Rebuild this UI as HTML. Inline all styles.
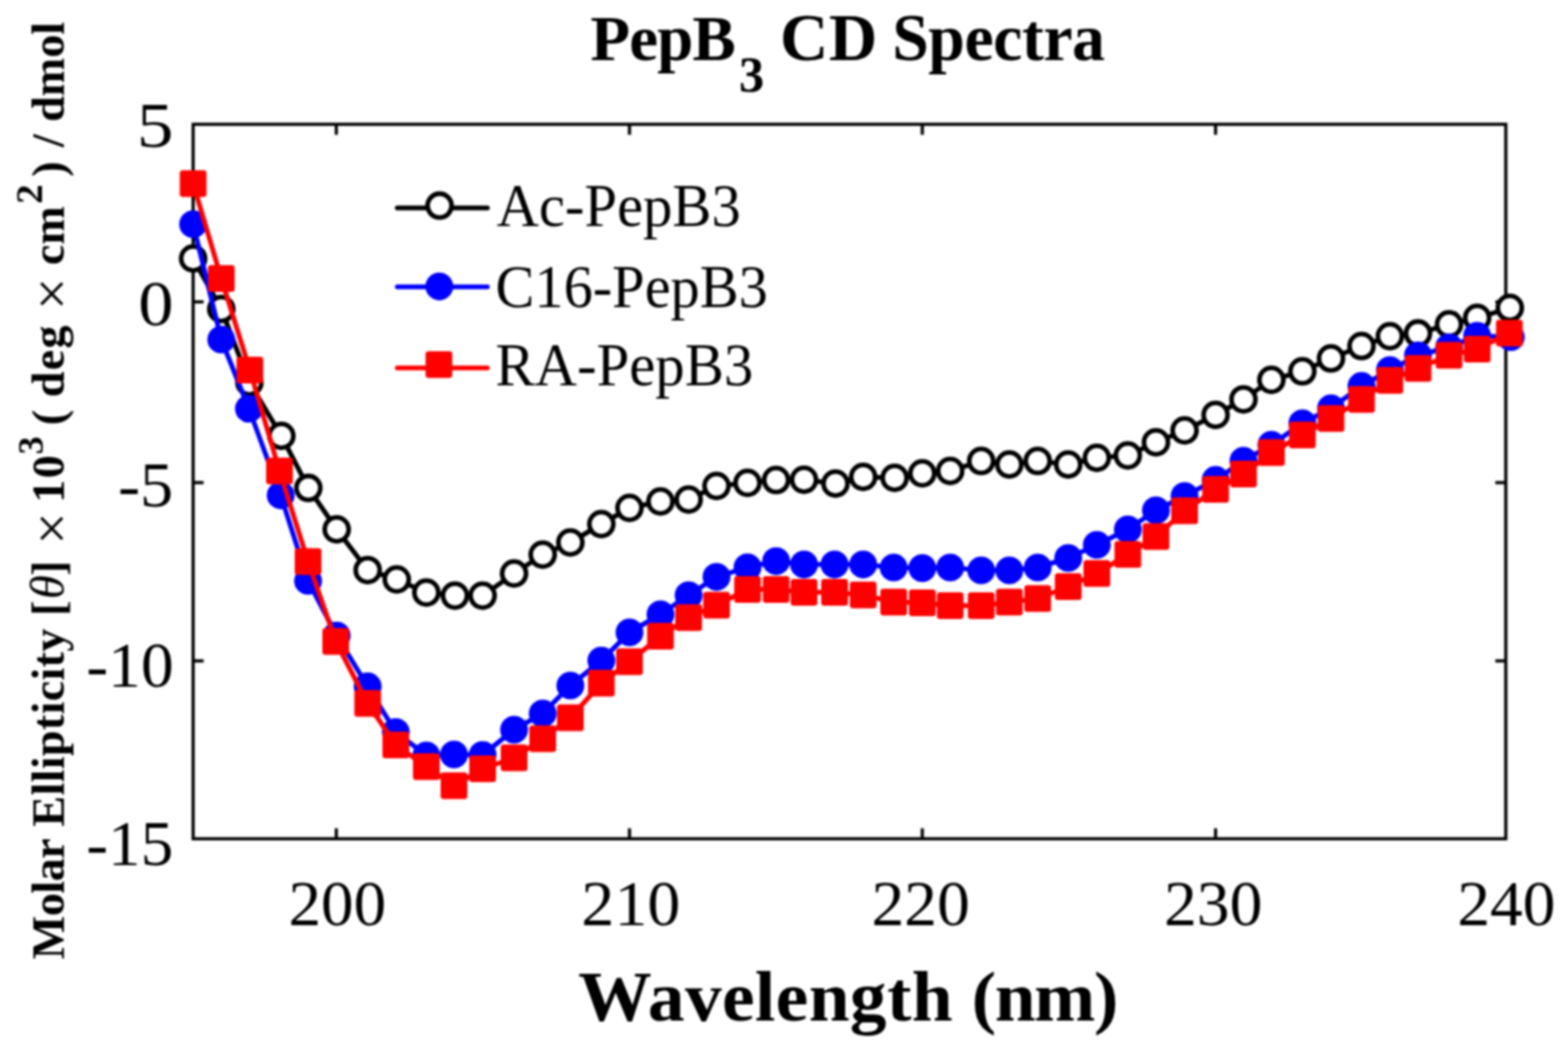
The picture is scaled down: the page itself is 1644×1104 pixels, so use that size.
<!DOCTYPE html>
<html lang="en"><head><meta charset="utf-8"><title>PepB3 CD Spectra</title>
<style>
html,body{margin:0;padding:0;background:#fff;}
body{width:1644px;height:1104px;overflow:hidden;}
svg{display:block;}
text{font-family:"Liberation Serif","DejaVu Serif",serif;fill:#000;}
.b{font-weight:bold;}
.i{font-style:italic;}
</style></head><body>
<svg width="1644" height="1104" viewBox="0 0 1644 1104">
<defs><filter id="soft" x="0" y="0" width="1644" height="1104" filterUnits="userSpaceOnUse" color-interpolation-filters="sRGB"><feGaussianBlur stdDeviation="0.85"/></filter></defs>
<rect x="0" y="0" width="1644" height="1104" fill="#fff"/>
<g id="chart" filter="url(#soft)">
<rect x="0" y="0" width="1644" height="1104" fill="#fff"/>
<g id="axes" stroke="#000" stroke-width="3.3" fill="none" stroke-linecap="butt">
<rect x="202.5" y="130.3" width="1376.3" height="749.10"/>
<line x1="352.6" y1="879.4" x2="352.6" y2="868.4"/>
<line x1="352.6" y1="130.3" x2="352.6" y2="141.3"/>
<line x1="660" y1="879.4" x2="660" y2="868.4"/>
<line x1="660" y1="130.3" x2="660" y2="141.3"/>
<line x1="967" y1="879.4" x2="967" y2="868.4"/>
<line x1="967" y1="130.3" x2="967" y2="141.3"/>
<line x1="1274.5" y1="879.4" x2="1274.5" y2="868.4"/>
<line x1="1274.5" y1="130.3" x2="1274.5" y2="141.3"/>
<line x1="202.5" y1="316.5" x2="213.5" y2="316.5"/>
<line x1="1578.8" y1="316.5" x2="1567.8" y2="316.5"/>
<line x1="202.5" y1="506.0" x2="213.5" y2="506.0"/>
<line x1="1578.8" y1="506.0" x2="1567.8" y2="506.0"/>
<line x1="202.5" y1="692.9" x2="213.5" y2="692.9"/>
<line x1="1578.8" y1="692.9" x2="1567.8" y2="692.9"/>
</g>
<g id="s-black"><polyline points="202.50,271.00 232.00,324.00 261.50,401.00 295.00,457.00 323.30,511.60 353.00,555.00 385.50,597.70 416.00,607.50 447.00,621.25 477.00,624.50 506.00,624.50 539.00,601.25 569.00,581.50 598.00,568.75 630.50,549.50 660.00,532.50 692.50,525.75 722.00,523.75 751.25,509.50 783.75,506.25 813.75,503.30 843.00,503.00 876.00,507.00 905.00,500.00 938.00,501.00 967.00,496.25 996.25,493.75 1028.75,483.30 1058.25,487.00 1088.00,483.30 1120.00,487.00 1150.00,480.00 1182.50,477.50 1212.00,463.75 1242.00,451.25 1274.50,435.00 1303.75,418.70 1333.00,398.25 1365.50,389.30 1395.50,375.80 1427.50,362.80 1457.25,352.50 1486.75,349.60 1519.25,340.00 1548.75,333.30 1583.00,322.80" fill="none" stroke="#000" stroke-width="5.0" stroke-linejoin="round"/>
<circle cx="202.50" cy="271.00" r="12.6" fill="#fff" stroke="#000" stroke-width="4.8"/>
<circle cx="232.00" cy="324.00" r="12.6" fill="#fff" stroke="#000" stroke-width="4.8"/>
<circle cx="261.50" cy="401.00" r="12.6" fill="#fff" stroke="#000" stroke-width="4.8"/>
<circle cx="295.00" cy="457.00" r="12.6" fill="#fff" stroke="#000" stroke-width="4.8"/>
<circle cx="323.30" cy="511.60" r="12.6" fill="#fff" stroke="#000" stroke-width="4.8"/>
<circle cx="353.00" cy="555.00" r="12.6" fill="#fff" stroke="#000" stroke-width="4.8"/>
<circle cx="385.50" cy="597.70" r="12.6" fill="#fff" stroke="#000" stroke-width="4.8"/>
<circle cx="416.00" cy="607.50" r="12.6" fill="#fff" stroke="#000" stroke-width="4.8"/>
<circle cx="447.00" cy="621.25" r="12.6" fill="#fff" stroke="#000" stroke-width="4.8"/>
<circle cx="477.00" cy="624.50" r="12.6" fill="#fff" stroke="#000" stroke-width="4.8"/>
<circle cx="506.00" cy="624.50" r="12.6" fill="#fff" stroke="#000" stroke-width="4.8"/>
<circle cx="539.00" cy="601.25" r="12.6" fill="#fff" stroke="#000" stroke-width="4.8"/>
<circle cx="569.00" cy="581.50" r="12.6" fill="#fff" stroke="#000" stroke-width="4.8"/>
<circle cx="598.00" cy="568.75" r="12.6" fill="#fff" stroke="#000" stroke-width="4.8"/>
<circle cx="630.50" cy="549.50" r="12.6" fill="#fff" stroke="#000" stroke-width="4.8"/>
<circle cx="660.00" cy="532.50" r="12.6" fill="#fff" stroke="#000" stroke-width="4.8"/>
<circle cx="692.50" cy="525.75" r="12.6" fill="#fff" stroke="#000" stroke-width="4.8"/>
<circle cx="722.00" cy="523.75" r="12.6" fill="#fff" stroke="#000" stroke-width="4.8"/>
<circle cx="751.25" cy="509.50" r="12.6" fill="#fff" stroke="#000" stroke-width="4.8"/>
<circle cx="783.75" cy="506.25" r="12.6" fill="#fff" stroke="#000" stroke-width="4.8"/>
<circle cx="813.75" cy="503.30" r="12.6" fill="#fff" stroke="#000" stroke-width="4.8"/>
<circle cx="843.00" cy="503.00" r="12.6" fill="#fff" stroke="#000" stroke-width="4.8"/>
<circle cx="876.00" cy="507.00" r="12.6" fill="#fff" stroke="#000" stroke-width="4.8"/>
<circle cx="905.00" cy="500.00" r="12.6" fill="#fff" stroke="#000" stroke-width="4.8"/>
<circle cx="938.00" cy="501.00" r="12.6" fill="#fff" stroke="#000" stroke-width="4.8"/>
<circle cx="967.00" cy="496.25" r="12.6" fill="#fff" stroke="#000" stroke-width="4.8"/>
<circle cx="996.25" cy="493.75" r="12.6" fill="#fff" stroke="#000" stroke-width="4.8"/>
<circle cx="1028.75" cy="483.30" r="12.6" fill="#fff" stroke="#000" stroke-width="4.8"/>
<circle cx="1058.25" cy="487.00" r="12.6" fill="#fff" stroke="#000" stroke-width="4.8"/>
<circle cx="1088.00" cy="483.30" r="12.6" fill="#fff" stroke="#000" stroke-width="4.8"/>
<circle cx="1120.00" cy="487.00" r="12.6" fill="#fff" stroke="#000" stroke-width="4.8"/>
<circle cx="1150.00" cy="480.00" r="12.6" fill="#fff" stroke="#000" stroke-width="4.8"/>
<circle cx="1182.50" cy="477.50" r="12.6" fill="#fff" stroke="#000" stroke-width="4.8"/>
<circle cx="1212.00" cy="463.75" r="12.6" fill="#fff" stroke="#000" stroke-width="4.8"/>
<circle cx="1242.00" cy="451.25" r="12.6" fill="#fff" stroke="#000" stroke-width="4.8"/>
<circle cx="1274.50" cy="435.00" r="12.6" fill="#fff" stroke="#000" stroke-width="4.8"/>
<circle cx="1303.75" cy="418.70" r="12.6" fill="#fff" stroke="#000" stroke-width="4.8"/>
<circle cx="1333.00" cy="398.25" r="12.6" fill="#fff" stroke="#000" stroke-width="4.8"/>
<circle cx="1365.50" cy="389.30" r="12.6" fill="#fff" stroke="#000" stroke-width="4.8"/>
<circle cx="1395.50" cy="375.80" r="12.6" fill="#fff" stroke="#000" stroke-width="4.8"/>
<circle cx="1427.50" cy="362.80" r="12.6" fill="#fff" stroke="#000" stroke-width="4.8"/>
<circle cx="1457.25" cy="352.50" r="12.6" fill="#fff" stroke="#000" stroke-width="4.8"/>
<circle cx="1486.75" cy="349.60" r="12.6" fill="#fff" stroke="#000" stroke-width="4.8"/>
<circle cx="1519.25" cy="340.00" r="12.6" fill="#fff" stroke="#000" stroke-width="4.8"/>
<circle cx="1548.75" cy="333.30" r="12.6" fill="#fff" stroke="#000" stroke-width="4.8"/>
<circle cx="1583.00" cy="322.80" r="12.6" fill="#fff" stroke="#000" stroke-width="4.8"/>
</g>
<g id="s-blue"><polyline points="202.50,235.00 232.00,356.00 261.00,428.50 294.30,519.30 323.00,609.00 353.00,666.30 385.50,719.70 415.00,767.50 447.00,792.00 476.00,791.00 506.00,791.50 539.00,765.00 569.00,748.00 598.00,718.75 630.50,692.50 660.00,663.00 692.50,644.00 722.00,624.00 751.25,604.80 783.75,594.80 813.75,588.30 843.00,591.80 875.00,591.80 905.00,591.80 937.00,595.00 967.00,595.60 996.25,595.00 1028.75,598.00 1058.25,598.00 1088.00,595.00 1120.00,585.00 1150.00,571.25 1182.50,555.00 1212.00,535.00 1242.00,520.00 1274.50,503.20 1303.75,483.00 1333.00,466.40 1365.50,443.80 1395.50,428.00 1427.50,404.70 1457.25,388.00 1486.75,372.50 1519.25,364.00 1548.75,352.00 1584.00,353.50" fill="none" stroke="#0000ff" stroke-width="5.0" stroke-linejoin="round"/>
<circle cx="202.50" cy="235.00" r="14.6" fill="#0000ff"/>
<circle cx="232.00" cy="356.00" r="14.6" fill="#0000ff"/>
<circle cx="261.00" cy="428.50" r="14.6" fill="#0000ff"/>
<circle cx="294.30" cy="519.30" r="14.6" fill="#0000ff"/>
<circle cx="323.00" cy="609.00" r="14.6" fill="#0000ff"/>
<circle cx="353.00" cy="666.30" r="14.6" fill="#0000ff"/>
<circle cx="385.50" cy="719.70" r="14.6" fill="#0000ff"/>
<circle cx="415.00" cy="767.50" r="14.6" fill="#0000ff"/>
<circle cx="447.00" cy="792.00" r="14.6" fill="#0000ff"/>
<circle cx="476.00" cy="791.00" r="14.6" fill="#0000ff"/>
<circle cx="506.00" cy="791.50" r="14.6" fill="#0000ff"/>
<circle cx="539.00" cy="765.00" r="14.6" fill="#0000ff"/>
<circle cx="569.00" cy="748.00" r="14.6" fill="#0000ff"/>
<circle cx="598.00" cy="718.75" r="14.6" fill="#0000ff"/>
<circle cx="630.50" cy="692.50" r="14.6" fill="#0000ff"/>
<circle cx="660.00" cy="663.00" r="14.6" fill="#0000ff"/>
<circle cx="692.50" cy="644.00" r="14.6" fill="#0000ff"/>
<circle cx="722.00" cy="624.00" r="14.6" fill="#0000ff"/>
<circle cx="751.25" cy="604.80" r="14.6" fill="#0000ff"/>
<circle cx="783.75" cy="594.80" r="14.6" fill="#0000ff"/>
<circle cx="813.75" cy="588.30" r="14.6" fill="#0000ff"/>
<circle cx="843.00" cy="591.80" r="14.6" fill="#0000ff"/>
<circle cx="875.00" cy="591.80" r="14.6" fill="#0000ff"/>
<circle cx="905.00" cy="591.80" r="14.6" fill="#0000ff"/>
<circle cx="937.00" cy="595.00" r="14.6" fill="#0000ff"/>
<circle cx="967.00" cy="595.60" r="14.6" fill="#0000ff"/>
<circle cx="996.25" cy="595.00" r="14.6" fill="#0000ff"/>
<circle cx="1028.75" cy="598.00" r="14.6" fill="#0000ff"/>
<circle cx="1058.25" cy="598.00" r="14.6" fill="#0000ff"/>
<circle cx="1088.00" cy="595.00" r="14.6" fill="#0000ff"/>
<circle cx="1120.00" cy="585.00" r="14.6" fill="#0000ff"/>
<circle cx="1150.00" cy="571.25" r="14.6" fill="#0000ff"/>
<circle cx="1182.50" cy="555.00" r="14.6" fill="#0000ff"/>
<circle cx="1212.00" cy="535.00" r="14.6" fill="#0000ff"/>
<circle cx="1242.00" cy="520.00" r="14.6" fill="#0000ff"/>
<circle cx="1274.50" cy="503.20" r="14.6" fill="#0000ff"/>
<circle cx="1303.75" cy="483.00" r="14.6" fill="#0000ff"/>
<circle cx="1333.00" cy="466.40" r="14.6" fill="#0000ff"/>
<circle cx="1365.50" cy="443.80" r="14.6" fill="#0000ff"/>
<circle cx="1395.50" cy="428.00" r="14.6" fill="#0000ff"/>
<circle cx="1427.50" cy="404.70" r="14.6" fill="#0000ff"/>
<circle cx="1457.25" cy="388.00" r="14.6" fill="#0000ff"/>
<circle cx="1486.75" cy="372.50" r="14.6" fill="#0000ff"/>
<circle cx="1519.25" cy="364.00" r="14.6" fill="#0000ff"/>
<circle cx="1548.75" cy="352.00" r="14.6" fill="#0000ff"/>
<circle cx="1584.00" cy="353.50" r="14.6" fill="#0000ff"/>
</g>
<g id="s-red"><polyline points="202.50,192.50 232.00,292.00 262.00,388.00 293.00,493.75 323.00,588.75 352.00,672.50 385.50,737.50 415.00,781.00 447.00,803.75 476.00,823.75 506.00,806.00 539.00,794.50 569.00,774.50 598.00,752.50 630.50,716.25 660.00,693.75 692.50,667.00 722.00,647.50 751.25,634.50 783.75,618.00 813.75,618.00 843.00,621.00 875.00,621.00 905.00,623.75 937.00,631.25 967.00,632.00 996.25,635.00 1028.75,635.00 1058.25,631.25 1088.00,627.50 1120.00,615.00 1150.00,601.25 1182.50,581.25 1212.00,562.50 1242.00,535.50 1274.50,513.00 1303.75,497.00 1333.00,474.50 1365.50,456.00 1395.50,438.75 1427.50,418.75 1457.25,398.75 1486.75,386.25 1519.25,372.50 1548.75,366.00 1582.50,349.20" fill="none" stroke="#ff0000" stroke-width="5.0" stroke-linejoin="round"/>
<rect x="188.50" y="178.50" width="28.0" height="28.0" rx="3" fill="#ff0000"/>
<rect x="218.00" y="278.00" width="28.0" height="28.0" rx="3" fill="#ff0000"/>
<rect x="248.00" y="374.00" width="28.0" height="28.0" rx="3" fill="#ff0000"/>
<rect x="279.00" y="479.75" width="28.0" height="28.0" rx="3" fill="#ff0000"/>
<rect x="309.00" y="574.75" width="28.0" height="28.0" rx="3" fill="#ff0000"/>
<rect x="338.00" y="658.50" width="28.0" height="28.0" rx="3" fill="#ff0000"/>
<rect x="371.50" y="723.50" width="28.0" height="28.0" rx="3" fill="#ff0000"/>
<rect x="401.00" y="767.00" width="28.0" height="28.0" rx="3" fill="#ff0000"/>
<rect x="433.00" y="789.75" width="28.0" height="28.0" rx="3" fill="#ff0000"/>
<rect x="462.00" y="809.75" width="28.0" height="28.0" rx="3" fill="#ff0000"/>
<rect x="492.00" y="792.00" width="28.0" height="28.0" rx="3" fill="#ff0000"/>
<rect x="525.00" y="780.50" width="28.0" height="28.0" rx="3" fill="#ff0000"/>
<rect x="555.00" y="760.50" width="28.0" height="28.0" rx="3" fill="#ff0000"/>
<rect x="584.00" y="738.50" width="28.0" height="28.0" rx="3" fill="#ff0000"/>
<rect x="616.50" y="702.25" width="28.0" height="28.0" rx="3" fill="#ff0000"/>
<rect x="646.00" y="679.75" width="28.0" height="28.0" rx="3" fill="#ff0000"/>
<rect x="678.50" y="653.00" width="28.0" height="28.0" rx="3" fill="#ff0000"/>
<rect x="708.00" y="633.50" width="28.0" height="28.0" rx="3" fill="#ff0000"/>
<rect x="737.25" y="620.50" width="28.0" height="28.0" rx="3" fill="#ff0000"/>
<rect x="769.75" y="604.00" width="28.0" height="28.0" rx="3" fill="#ff0000"/>
<rect x="799.75" y="604.00" width="28.0" height="28.0" rx="3" fill="#ff0000"/>
<rect x="829.00" y="607.00" width="28.0" height="28.0" rx="3" fill="#ff0000"/>
<rect x="861.00" y="607.00" width="28.0" height="28.0" rx="3" fill="#ff0000"/>
<rect x="891.00" y="609.75" width="28.0" height="28.0" rx="3" fill="#ff0000"/>
<rect x="923.00" y="617.25" width="28.0" height="28.0" rx="3" fill="#ff0000"/>
<rect x="953.00" y="618.00" width="28.0" height="28.0" rx="3" fill="#ff0000"/>
<rect x="982.25" y="621.00" width="28.0" height="28.0" rx="3" fill="#ff0000"/>
<rect x="1014.75" y="621.00" width="28.0" height="28.0" rx="3" fill="#ff0000"/>
<rect x="1044.25" y="617.25" width="28.0" height="28.0" rx="3" fill="#ff0000"/>
<rect x="1074.00" y="613.50" width="28.0" height="28.0" rx="3" fill="#ff0000"/>
<rect x="1106.00" y="601.00" width="28.0" height="28.0" rx="3" fill="#ff0000"/>
<rect x="1136.00" y="587.25" width="28.0" height="28.0" rx="3" fill="#ff0000"/>
<rect x="1168.50" y="567.25" width="28.0" height="28.0" rx="3" fill="#ff0000"/>
<rect x="1198.00" y="548.50" width="28.0" height="28.0" rx="3" fill="#ff0000"/>
<rect x="1228.00" y="521.50" width="28.0" height="28.0" rx="3" fill="#ff0000"/>
<rect x="1260.50" y="499.00" width="28.0" height="28.0" rx="3" fill="#ff0000"/>
<rect x="1289.75" y="483.00" width="28.0" height="28.0" rx="3" fill="#ff0000"/>
<rect x="1319.00" y="460.50" width="28.0" height="28.0" rx="3" fill="#ff0000"/>
<rect x="1351.50" y="442.00" width="28.0" height="28.0" rx="3" fill="#ff0000"/>
<rect x="1381.50" y="424.75" width="28.0" height="28.0" rx="3" fill="#ff0000"/>
<rect x="1413.50" y="404.75" width="28.0" height="28.0" rx="3" fill="#ff0000"/>
<rect x="1443.25" y="384.75" width="28.0" height="28.0" rx="3" fill="#ff0000"/>
<rect x="1472.75" y="372.25" width="28.0" height="28.0" rx="3" fill="#ff0000"/>
<rect x="1505.25" y="358.50" width="28.0" height="28.0" rx="3" fill="#ff0000"/>
<rect x="1534.75" y="352.00" width="28.0" height="28.0" rx="3" fill="#ff0000"/>
<rect x="1568.50" y="335.20" width="28.0" height="28.0" rx="3" fill="#ff0000"/>
</g>
<g id="legend" stroke-linecap="round">
<line x1="416.5" y1="218.1" x2="511.0" y2="218.1" stroke="#000" stroke-width="5.0"/>
<circle cx="460.9" cy="215.6" r="12.6" fill="#fff" stroke="#000" stroke-width="4.8"/>
<line x1="416.5" y1="300.7" x2="511.0" y2="300.7" stroke="#0000ff" stroke-width="5.0"/>
<circle cx="460.6" cy="300.3" r="14.6" fill="#0000ff"/>
<line x1="416.5" y1="385.8" x2="511.0" y2="385.8" stroke="#ff0000" stroke-width="5.0"/>
<rect x="446.2" y="368.3" width="28.0" height="28.0" rx="3" fill="#ff0000"/>
</g>
<text id="lg1" transform="translate(520.69,236.70) scale(0.9755,1)" font-size="63.0">Ac-PepB3</text>
<text id="lg2" transform="translate(519.45,321.90) scale(0.9717,1)" font-size="63.0">C16-PepB3</text>
<text id="lg3" transform="translate(519.45,403.60) scale(0.9777,1)" font-size="63.0">RA-PepB3</text>
<text id="yt0" transform="translate(143.59,154.40) scale(1.1204,1)" font-size="68.5">5</text>
<text id="yt1" transform="translate(145.05,340.60) scale(1.0775,1)" font-size="68.5">0</text>
<text id="yt2" transform="translate(123.66,530.70) scale(1.0161,1)" font-size="68.5">-5</text>
<text id="yt3" transform="translate(90.39,720.40) scale(1.0045,1)" font-size="68.5">-10</text>
<text id="yt4" transform="translate(90.41,906.70) scale(0.9987,1)" font-size="68.5">-15</text>
<text id="xt0" transform="translate(302.42,970.30) scale(0.9977,1)" font-size="68.5">200</text>
<text id="xt1" transform="translate(609.59,970.30) scale(1.0090,1)" font-size="68.5">210</text>
<text id="xt2" transform="translate(913.70,970.30) scale(1.0049,1)" font-size="68.5">220</text>
<text id="xt3" transform="translate(1220.41,970.30) scale(1.0038,1)" font-size="68.5">230</text>
<text id="xt4" transform="translate(1527.91,970.30) scale(1.0018,1)" font-size="68.5">240</text>
<text id="title" class="b" transform="translate(0,62.60) scale(1.0000,1)"><tspan x="618.98" y="0.00" font-size="68.2" letter-spacing="-0.909">PepB</tspan><tspan x="774.72" y="33.30" font-size="53.0">3</tspan> <tspan x="817.78" y="0.30" font-size="70.4" letter-spacing="0.512">CD</tspan> <tspan x="935.50" y="0.00" font-size="69.0" letter-spacing="-0.507">Spectra</tspan></text>
<text id="xlabel" class="b" transform="translate(0,1069.90) scale(1.0550,1)"><tspan x="574.54" y="0.00" font-size="73.0" letter-spacing="0.358">Wavelength</tspan> <tspan x="965.72" y="0.00" font-size="73.0" letter-spacing="-1.401">(nm)</tspan></text>
<text id="ylabel" class="b" transform="translate(66.60,0) rotate(-90) scale(1.0000,1)"><tspan x="-1005.63" y="0.00" font-size="48.5" letter-spacing="-0.664">Molar</tspan> <tspan x="-866.63" y="0.00" font-size="48.5" letter-spacing="0.290">Ellipticity</tspan> <tspan x="-645.77" y="0.00" font-size="48.5">[</tspan><tspan x="-628.34" y="0.00" font-size="51.5" font-weight="normal" font-style="italic">θ</tspan><tspan x="-603.75" y="0.00" font-size="48.5">]</tspan> <tspan x="-571.05" y="7.60" font-size="60.0" font-weight="normal" font-style="normal">×</tspan> <tspan x="-527.18" y="0.00" font-size="48.5" letter-spacing="1.420">10</tspan><tspan x="-476.59" y="-21.40" font-size="38.0">3</tspan> <tspan x="-445.77" y="0.00" font-size="48.5">(</tspan> <tspan x="-416.44" y="0.00" font-size="48.5" letter-spacing="1.187">deg</tspan> <tspan x="-325.10" y="7.60" font-size="60.0" font-weight="normal" font-style="normal">×</tspan> <tspan x="-278.10" y="0.00" font-size="48.5" letter-spacing="-0.013">cm</tspan><tspan x="-213.70" y="-22.20" font-size="41.0">2</tspan> <tspan x="-185.21" y="0.00" font-size="48.5">)</tspan> <tspan x="-154.37" y="0.00" font-size="48.5">/</tspan> <tspan x="-127.84" y="0.00" font-size="48.5" letter-spacing="-0.078">dmol</tspan></text>
</g>
</svg>
</body></html>
